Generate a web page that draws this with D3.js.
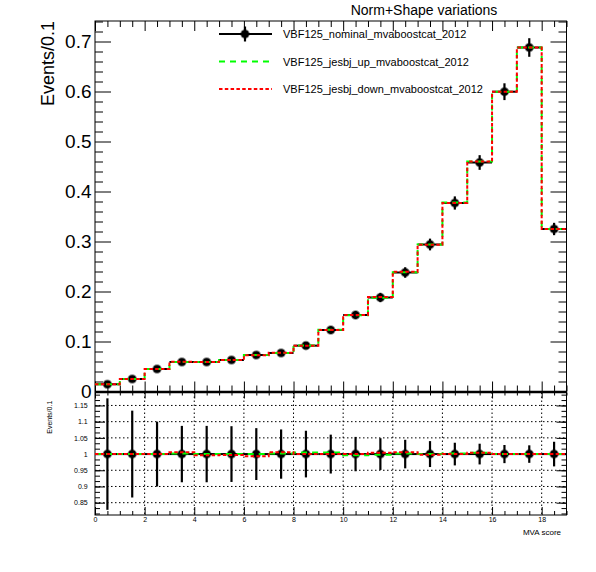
<html>
<head>
<style>
  body { margin: 0; background: #fff; }
  text { font-family: "Liberation Sans", Arial, sans-serif; }
</style>
</head>
<body>
<div id="chart"></div>
<script src="https://cdn.jsdelivr.net/npm/d3@7"></script>
<script>
// bin edges of the MVA score histogram (19 bins of width 1)
var binEdges = [0,1,2,3,4,5,6,7,8,9,10,11,12,13,14,15,16,17,18,19]
// nominal yield per bin (Events/0.1)
var nominal = [0.0145, 0.025, 0.045, 0.059, 0.059, 0.063, 0.073, 0.077, 0.0917, 0.123,
               0.153, 0.188, 0.238, 0.294, 0.377, 0.458, 0.5996, 0.688, 0.325]
// relative statistical error of the nominal
var relErr = [0.172, 0.134, 0.100, 0.087, 0.087, 0.086, 0.080, 0.076, 0.072, 0.060,
              0.053, 0.049, 0.044, 0.040, 0.035, 0.032, 0.028, 0.027, 0.038]
// jesbj up / down relative to nominal
var upRatio   = [1.000, 1.000, 1.000, 1.002, 1.000, 1.000, 1.000, 1.002, 1.005, 1.005,
                 0.996, 0.998, 1.002, 1.000, 1.002, 1.004, 1.000, 1.000, 1.000]
var downRatio = [1.000, 1.000, 1.000, 1.006, 0.996, 0.997, 0.993, 1.006, 1.000, 1.000,
                 1.000, 1.004, 1.006, 0.998, 1.000, 1.004, 1.000, 1.000, 1.000]
var mainTicks  = [0, 0.1, 0.2, 0.3, 0.4, 0.5, 0.6, 0.7]
var ratioTicks = [0.85, 0.9, 0.95, 1, 1.05, 1.1, 1.15]
var xTicks     = [0, 2, 4, 6, 8, 10, 12, 14, 16, 18]
var legendNames = ["VBF125_nominal_mvaboostcat_2012", "VBF125_jesbj_up_mvaboostcat_2012",
                   "VBF125_jesbj_down_mvaboostcat_2012"]

var W = 596, H = 572
var left = 95, right = 566.5
var mainTop = 21, mainBottom = 391.5
var ratTop = 392.5, ratBottom = 515

var bins = nominal.map(function (v, i) {
  return { lo: binEdges[i], hi: binEdges[i + 1], v: v, e: v * relErr[i],
           up: v * upRatio[i], down: v * downRatio[i], re: relErr[i],
           ru: upRatio[i], rd: downRatio[i] }
})

var svg = d3.select("#chart").append("svg").attr("width", W).attr("height", H)
svg.append("rect").attr("width", W).attr("height", H).attr("fill", "#fff")

var x = d3.scaleLinear().domain([0, 19]).range([left, right])
var y = d3.scaleLinear().domain([0, 0.741]).range([mainBottom, mainTop])
var yr = d3.scaleLinear().domain([0.812, 1.19]).range([ratBottom, ratTop])

var minorX = d3.range(0, 19.01, 0.5).filter(function (d) { return d % 2 !== 0 })
var minorY = d3.range(0, 0.741, 0.02).filter(function (d) { return Math.abs(d * 10 - Math.round(d * 10)) > 1e-6 })
var minorR = d3.range(0.8167, 1.19, 0.05 / 3).filter(function (d) {
  return Math.abs(d * 20 - Math.round(d * 20)) > 1e-4 })

function ticks(g, axis, tr) {
  var a = g.append("g").attr("transform", tr).call(axis)
  a.select(".domain").remove()
  a.selectAll(".tick line").attr("stroke", "#000")
  return a
}

// ---------- ratio pad (drawn first, so the main "0" label sits over it) ----------
var rat = svg.append("g")

// dotted grid
rat.selectAll("line.gx").data(xTicks.slice(1)).enter().append("line")
  .attr("x1", function (d) { return x(d) }).attr("x2", function (d) { return x(d) })
  .attr("y1", ratTop).attr("y2", ratBottom)
  .attr("stroke", "#000").attr("stroke-width", 1).attr("stroke-dasharray", "1.5,2.5")
rat.selectAll("line.gy").data(ratioTicks).enter().append("line")
  .attr("x1", left).attr("x2", right)
  .attr("y1", function (d) { return yr(d) }).attr("y2", function (d) { return yr(d) })
  .attr("stroke", "#000").attr("stroke-width", 1).attr("stroke-dasharray", "1.5,2.5")

var xl = ticks(rat, d3.axisBottom(x).tickValues(xTicks).tickSize(-8).tickPadding(2)
  .tickFormat(d3.format("d")), "translate(0," + ratBottom + ")")
xl.selectAll("text").attr("font-size", 7).attr("fill", "#000")
  .style("font-family", "'Liberation Sans', Arial, sans-serif")
ticks(rat, d3.axisBottom(x).tickValues(minorX).tickSize(-4).tickFormat(""), "translate(0," + ratBottom + ")")
ticks(rat, d3.axisTop(x).tickValues(xTicks).tickSize(-6).tickFormat(""), "translate(0," + ratTop + ")")
ticks(rat, d3.axisTop(x).tickValues(minorX).tickSize(-3).tickFormat(""), "translate(0," + ratTop + ")")

var rl = ticks(rat, d3.axisLeft(yr).tickValues(ratioTicks).tickSize(-10).tickPadding(7.3)
  .tickFormat(function (d) { return String(+d.toFixed(2)) }), "translate(" + left + ",0)")
rl.selectAll("text").attr("font-size", 7).attr("fill", "#000")
  .style("font-family", "'Liberation Sans', Arial, sans-serif")
ticks(rat, d3.axisLeft(yr).tickValues(minorR).tickSize(-5).tickFormat(""), "translate(" + left + ",0)")
ticks(rat, d3.axisRight(yr).tickValues(ratioTicks).tickSize(-10).tickFormat(""), "translate(" + right + ",0)")
ticks(rat, d3.axisRight(yr).tickValues(minorR).tickSize(-5).tickFormat(""), "translate(" + right + ",0)")

rat.append("rect").attr("x", left).attr("y", ratTop)
  .attr("width", right - left).attr("height", ratBottom - ratTop)
  .attr("fill", "none").attr("stroke", "#000").attr("stroke-width", 1)

rat.append("text").attr("transform", "translate(51.5,400.7) rotate(-90)")
  .attr("text-anchor", "end").attr("font-size", 7).text("Events/0.1")
rat.append("text").attr("x", 561).attr("y", 534.5).attr("text-anchor", "end")
  .attr("font-size", 8).text("MVA score")

// ---------- main pad ----------
var main = svg.append("g")

ticks(main, d3.axisBottom(x).tickValues(xTicks).tickSize(-10).tickFormat(""), "translate(0," + mainBottom + ")")
ticks(main, d3.axisBottom(x).tickValues(minorX).tickSize(-6).tickFormat(""), "translate(0," + mainBottom + ")")
ticks(main, d3.axisTop(x).tickValues(xTicks).tickSize(-10).tickFormat(""), "translate(0," + mainTop + ")")
ticks(main, d3.axisTop(x).tickValues(minorX).tickSize(-6).tickFormat(""), "translate(0," + mainTop + ")")

var yl = ticks(main, d3.axisLeft(y).tickValues(mainTicks).tickSize(-16).tickPadding(3.5)
  .tickFormat(function (d) { return d === 0 ? "0" : d3.format(".1f")(d) }), "translate(" + left + ",0)")
yl.selectAll("text").attr("font-size", 19).attr("fill", "#000")
  .style("font-family", "'Liberation Sans', Arial, sans-serif")
ticks(main, d3.axisLeft(y).tickValues(minorY).tickSize(-8).tickFormat(""), "translate(" + left + ",0)")
ticks(main, d3.axisRight(y).tickValues(mainTicks).tickSize(-16).tickFormat(""), "translate(" + right + ",0)")
ticks(main, d3.axisRight(y).tickValues(minorY).tickSize(-8).tickFormat(""), "translate(" + right + ",0)")

main.append("rect").attr("x", left).attr("y", mainTop)
  .attr("width", right - left).attr("height", mainBottom - mainTop)
  .attr("fill", "none").attr("stroke", "#000").attr("stroke-width", 1)
// thick joint between pads
main.append("line").attr("x1", left).attr("x2", right).attr("y1", (mainBottom + ratTop) / 2)
  .attr("y2", (mainBottom + ratTop) / 2).attr("stroke", "#000").attr("stroke-width", 2.5)

main.append("text").attr("transform", "translate(54," + mainTop + ") rotate(-90)")
  .attr("text-anchor", "end").attr("font-size", 18).text("Events/0.1")

svg.append("text").attr("x", 424).attr("y", 14.5).attr("text-anchor", "middle")
  .attr("font-size", 14).text("Norm+Shape variations")

function stepPath(ys, key) {
  var line = d3.line().x(function (d) { return d[0] }).y(function (d) { return d[1] })
  var pts = []
  bins.forEach(function (b) {
    pts.push([x(b.lo), ys(b[key])])
    pts.push([x(b.hi), ys(b[key])])
  })
  return line(pts)
}

function drawPoints(g, ys, valKey, errKey) {
  var pts = g.append("g")
  pts.selectAll("line.h").data(bins).enter().append("line")
    .attr("x1", function (b) { return x(b.lo) }).attr("x2", function (b) { return x(b.hi) })
    .attr("y1", function (b) { return ys(valKey(b)) }).attr("y2", function (b) { return ys(valKey(b)) })
    .attr("stroke", "#000").attr("stroke-width", 2)
  pts.selectAll("line.v").data(bins).enter().append("line")
    .attr("x1", function (b) { return x((b.lo + b.hi) / 2) }).attr("x2", function (b) { return x((b.lo + b.hi) / 2) })
    .attr("y1", function (b) { return ys(valKey(b) - errKey(b)) })
    .attr("y2", function (b) { return ys(valKey(b) + errKey(b)) })
    .attr("stroke", "#000").attr("stroke-width", 2.2)
  pts.selectAll("circle").data(bins).enter().append("circle")
    .attr("cx", function (b) { return x((b.lo + b.hi) / 2) })
    .attr("cy", function (b) { return ys(valKey(b)) })
    .attr("r", 3.8).attr("fill", "#000")
    .attr("stroke", "rgba(0,0,0,0.45)").attr("stroke-width", 2)
}

function drawVariations(g, ys, upKey, downKey) {
  g.append("path").attr("d", stepPath(ys, upKey)).attr("fill", "none")
    .attr("stroke", "#00ff00").attr("stroke-width", 2).attr("stroke-dasharray", "6,5")
  g.append("path").attr("d", stepPath(ys, downKey)).attr("fill", "none")
    .attr("stroke", "#ff0000").attr("stroke-width", 2).attr("stroke-dasharray", "3.5,2.3")
}

var plot = main.append("g")
drawPoints(plot, y, function (b) { return b.v }, function (b) { return b.e })
drawVariations(plot, y, "up", "down")

var rplot = rat.append("g")
drawPoints(rplot, yr, function (b) { return 1 }, function (b) { return b.re })
drawVariations(rplot, yr, "ru", "rd")

// legend
var legY = [34, 61.5, 89]
var leg = svg.append("g")
leg.append("line").attr("x1", 219).attr("x2", 272).attr("y1", legY[0]).attr("y2", legY[0])
  .attr("stroke", "#000").attr("stroke-width", 2)
leg.append("line").attr("x1", 245).attr("x2", 245).attr("y1", legY[0] - 7.5).attr("y2", legY[0] + 7.5)
  .attr("stroke", "#000").attr("stroke-width", 2.2)
leg.append("circle").attr("cx", 245).attr("cy", legY[0]).attr("r", 3.8).attr("fill", "#000")
  .attr("stroke", "rgba(0,0,0,0.45)").attr("stroke-width", 2)
leg.append("line").attr("x1", 219).attr("x2", 272).attr("y1", legY[1]).attr("y2", legY[1])
  .attr("stroke", "#00ff00").attr("stroke-width", 2).attr("stroke-dasharray", "6,5")
leg.append("line").attr("x1", 219).attr("x2", 272).attr("y1", legY[2]).attr("y2", legY[2])
  .attr("stroke", "#ff0000").attr("stroke-width", 2).attr("stroke-dasharray", "3.5,2.3")
leg.selectAll("text").data(legendNames).enter().append("text")
  .attr("x", 283).attr("y", function (d, i) { return legY[i] + 4 })
  .attr("font-size", 11).text(function (d) { return d })
</script>
</body>
</html>
